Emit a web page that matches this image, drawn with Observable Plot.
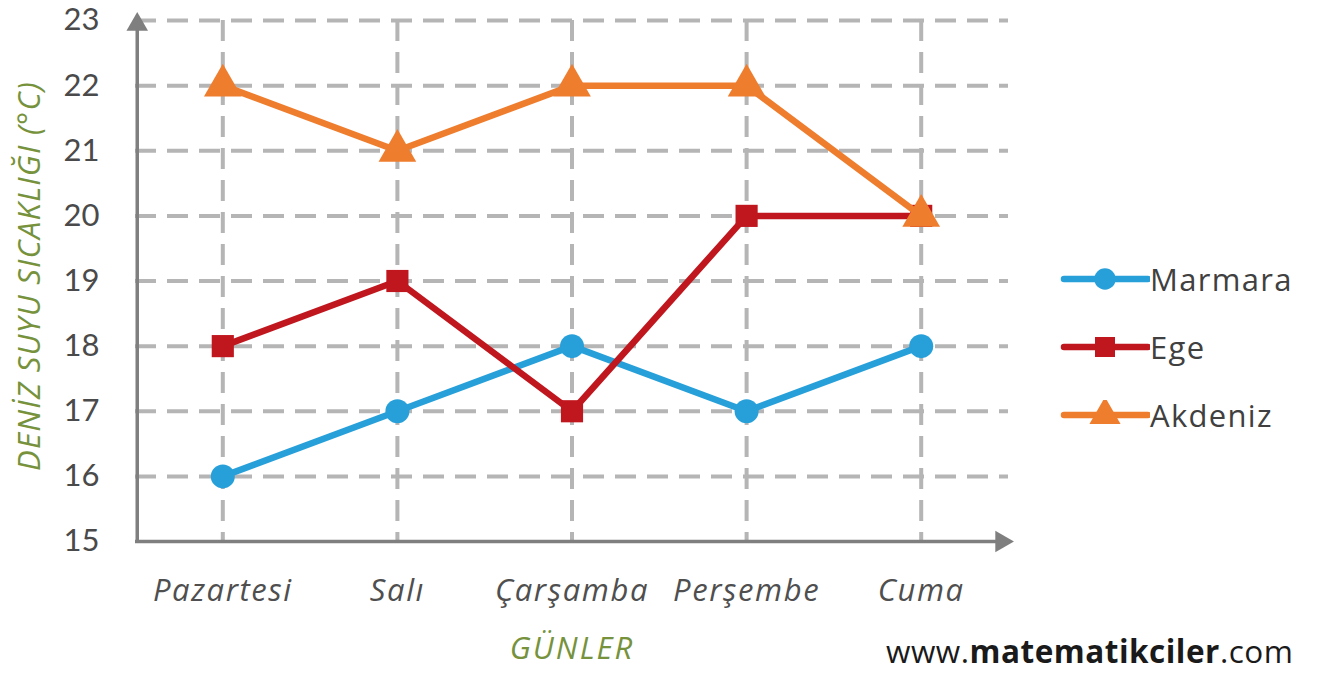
<!DOCTYPE html>
<html>
<head>
<meta charset="utf-8">
<script src="https://cdn.jsdelivr.net/npm/d3@7"></script>
<script src="https://cdn.jsdelivr.net/npm/@observablehq/plot@0.6"></script>
<style>
  html, body { margin: 0; padding: 0; background: #fff; }
  #wrap { position: relative; width: 1318px; height: 675px; overflow: hidden; }
  #wrap svg.plot { position: absolute; left: 0; top: 0; }
  .ytitle { position: absolute; left: 28px; top: 276px; transform: translate(-50%, -50%) rotate(-90deg);
    font-family: "Open Sans", sans-serif; font-style: italic; font-size: 31px; letter-spacing: 1.2px; color: #76923c; white-space: nowrap; }
  .xtitle { position: absolute; left: 572px; top: 647px; transform: translate(-50%, -50%);
    font-family: "Open Sans", sans-serif; font-style: italic; font-size: 31px; letter-spacing: 2px; color: #76923c; white-space: nowrap; }
  .legend { position: absolute; left: 1060px; top: 0; font-family: "Open Sans", sans-serif; font-size: 31px; letter-spacing: 1.3px; color: #404040; }
  .legend .item { position: absolute; left: 0; display: flex; align-items: center; white-space: nowrap; transform: translateY(-50%); }
  .legend svg { display: block; margin-right: 0px; }
  .watermark { position: absolute; left: 886px; top: 650px; transform: translateY(-50%);
    font-family: "Open Sans", sans-serif; font-size: 31.5px; color: #1a1a1a; white-space: nowrap; letter-spacing: 0.5px; }
  .watermark b { font-weight: 700; }
</style>
</head>
<body>
<div id="wrap"></div>
<script>
const days = ["Pazartesi", "Salı", "Çarşamba", "Perşembe", "Cuma"];
const marmara = [16, 17, 18, 17, 18];
const ege = [18, 19, 17, 20, 20];
const akdeniz = [22, 21, 22, 22, 20];
const yTicks = [15, 16, 17, 18, 19, 20, 21, 22, 23];
const seriesNames = ["Marmara", "Ege", "Akdeniz"];
const seriesColors = ["#27a0da", "#c0171f", "#ef7d2e"];
const seriesSymbols = ["circle", "square", "triangle"];

const xDomain = [-0.5, days.length - 0.5];
const yDomain = [15, 23];

const rows = [];
[marmara, ege, akdeniz].forEach((vals, s) => {
  vals.forEach((v, i) => rows.push({series: seriesNames[s], i, day: days[i], value: v}));
});

const marks = [];
// grid
marks.push(Plot.gridY(yTicks.slice(1), {stroke: "#b5b5b5", strokeOpacity: 1, strokeWidth: 4, strokeDasharray: "21,11"}));
marks.push(Plot.gridX(d3.range(days.length), {stroke: "#b5b5b5", strokeOpacity: 1, strokeWidth: 4, strokeDasharray: "21,11"}));
// axes lines with arrowheads
marks.push(Plot.ruleY([yDomain[0]], {x1: xDomain[0], x2: xDomain[1] - 0.06, stroke: "#7f7f7f", strokeWidth: 3.5}));
marks.push(Plot.ruleX([xDomain[0] + 0.01], {y1: yDomain[0], y2: yDomain[1] - 0.1, stroke: "#7f7f7f", strokeWidth: 3.5}));
marks.push(Plot.dot([{x: xDomain[1] - 0.04, y: yDomain[0]}], {x: "x", y: "y", symbol: "triangle", r: 8, fill: "#7f7f7f", rotate: 90}));
marks.push(Plot.dot([{x: xDomain[0] + 0.01, y: yDomain[1] - 0.06}], {x: "x", y: "y", symbol: "triangle", r: 8, fill: "#7f7f7f"}));
// series
seriesNames.forEach((name, s) => {
  const data = rows.filter(d => d.series === name);
  marks.push(Plot.line(data, {x: "i", y: "value", stroke: seriesColors[s], strokeWidth: 6.5}));
  const r = s === 0 ? 12 : s === 1 ? 12.5 : 14;
  marks.push(Plot.dot(data, {x: "i", y: "value", symbol: seriesSymbols[s], r, fill: seriesColors[s], stroke: "none"}));
});
// axis labels
marks.push(Plot.axisY(yTicks, {tickSize: 0, tickPadding: 36, fontSize: 31, fontFamily: "Lato, sans-serif", fill: "#4a4a4a", tickFormat: d => String(d), label: null}));
marks.push(Plot.axisX(d3.range(days.length), {tickSize: 0, tickPadding: 37, fontSize: 31, fontFamily: "'Open Sans', sans-serif", fontStyle: "italic", fill: "#4f4f4f", tickFormat: i => days[i], label: null}));

const chart = Plot.plot({
  width: 1318,
  height: 675,
  marginLeft: 135,
  marginRight: 310,
  marginTop: 20,
  marginBottom: 134,
  x: {type: "linear", domain: xDomain, axis: null},
  y: {type: "linear", domain: yDomain, axis: null},
  style: {background: "transparent", fontFamily: "Lato, sans-serif"},
  marks
});

const wrap = document.getElementById("wrap");
wrap.appendChild(chart);
// letter spacing for the day labels
d3.select(chart).selectAll("g[aria-label='x-axis tick label'] text").style("letter-spacing", "1.6px");

const yt = document.createElement("div");
yt.className = "ytitle";
yt.textContent = "DENİZ SUYU SICAKLIĞI (°C)";
wrap.appendChild(yt);

const xt = document.createElement("div");
xt.className = "xtitle";
xt.textContent = "GÜNLER";
wrap.appendChild(xt);

const legend = document.createElement("div");
legend.className = "legend";
const legendY = [279, 347, 415];
const ns = "http://www.w3.org/2000/svg";
seriesNames.forEach((name, s) => {
  const item = document.createElement("div");
  item.className = "item";
  item.style.top = legendY[s] + "px";
  const svg = document.createElementNS(ns, "svg");
  svg.setAttribute("width", 90);
  svg.setAttribute("height", 30);
  const line = document.createElementNS(ns, "line");
  line.setAttribute("x1", 4); line.setAttribute("x2", 88);
  line.setAttribute("y1", 15); line.setAttribute("y2", 15);
  line.setAttribute("stroke", seriesColors[s]);
  line.setAttribute("stroke-width", 6.5);
  line.setAttribute("stroke-linecap", "round");
  svg.appendChild(line);
  const sym = document.createElementNS(ns, "path");
  const size = s === 0 ? 360 : s === 1 ? 400 : 420;
  sym.setAttribute("d", d3.symbol(s === 0 ? d3.symbolCircle : s === 1 ? d3.symbolSquare : d3.symbolTriangle, size)());
  sym.setAttribute("transform", "translate(45,15)");
  sym.setAttribute("fill", seriesColors[s]);
  svg.appendChild(sym);
  item.appendChild(svg);
  const t = document.createElement("span");
  t.textContent = name;
  item.appendChild(t);
  legend.appendChild(item);
});
wrap.appendChild(legend);

const wm = document.createElement("div");
wm.className = "watermark";
wm.innerHTML = "www.<b>matematikciler</b>.com";
wrap.appendChild(wm);
</script>
</body>
</html>
